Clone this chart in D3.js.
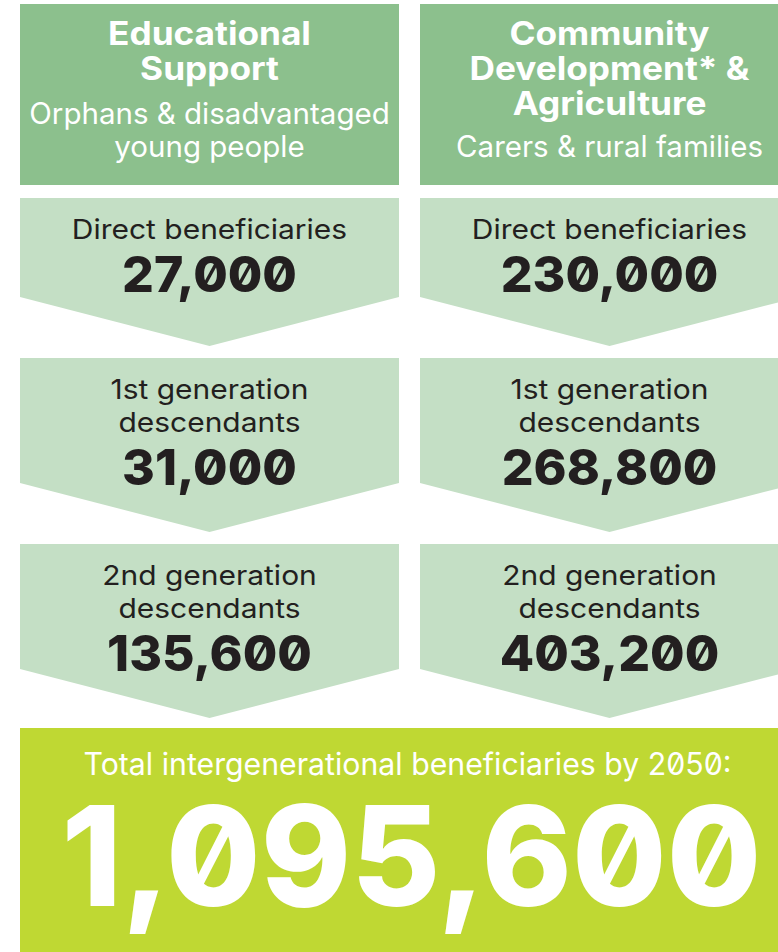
<!DOCTYPE html>
<html>
<head>
<meta charset="utf-8">
<script src="https://cdn.jsdelivr.net/npm/d3@7"></script>
<style>
  html, body { margin: 0; padding: 0; background: #ffffff; overflow: hidden; }
  svg { display: block; }
  text { font-family: Inter, "Noto Sans", sans-serif; }
  .num { font-feature-settings: "zero" 1; }
</style>
</head>
<body>
<svg id="chart" width="778" height="952"></svg>
<script>
// ---- data ----
const columns = ["Educational Support", "Community Development* & Agriculture"];
const columnTitles = [["Educational", "Support"], ["Community", "Development* &", "Agriculture"]];
const columnSubtitles = [["Orphans & disadvantaged", "young people"], ["Carers & rural families"]];
const stageLabels = [["Direct beneficiaries"], ["1st generation", "descendants"], ["2nd generation", "descendants"]];
const educationValues = [27000, 31000, 135600];
const communityValues = [230000, 268800, 403200];
const totalLabel = "Total intergenerational beneficiaries by 2050:";
const totalValue = 1095600;

const seriesValues = [educationValues, communityValues];

// ---- layout ----
const svg = d3.select("#chart");
const fmt = d3.format(",");
const colors = { header: "#8cc08d", stage: "#c4dfc5", total: "#bfd833", dark: "#231f20", white: "#ffffff" };

const x = d3.scaleBand().domain(columns).range([20, 799]).paddingInner(21 / 400);
const bw = x.bandwidth();

function addText(cx, y, sx, txt) {
  return svg.append("text")
    .attr("transform", `translate(${cx},${y}) scale(${sx},1)`)
    .attr("text-anchor", "middle").text(txt);
}

// header boxes
const headerTop = 4, headerBottom = 185;
columns.forEach((c, i) => {
  const x0 = x(c), cx = x0 + bw / 2;
  svg.append("rect").attr("x", x0).attr("y", headerTop).attr("width", bw)
    .attr("height", headerBottom - headerTop).attr("fill", colors.header);
  const titles = columnTitles[i];
  titles.forEach((t, j) => {
    addText(cx, 45 + j * 35, 1.1, t).attr("fill", colors.white)
      .attr("font-size", 32).attr("font-weight", 700);
  });
  const subs = columnSubtitles[i];
  const subStart = titles.length === 2 ? 124 : 157;
  subs.forEach((t, j) => {
    addText(cx, subStart + j * 33, 1.0, t).attr("fill", colors.white)
      .attr("font-size", 29.5).attr("font-weight", 400);
  });
});

// stage chevrons
const rowTops = [];
let yTop = 198;
stageLabels.forEach((lines) => {
  rowTops.push(yTop);
  const rectH = 99 + (lines.length - 1) * 26;
  yTop = yTop + rectH + 49 + 12;
});

stageLabels.forEach((lines, r) => {
  const top = rowTops[r];
  const rectH = 99 + (lines.length - 1) * 26;
  const side = top + rectH, tip = side + 49;
  columns.forEach((c, i) => {
    const x0 = x(c), x1 = x0 + bw, cx = x0 + bw / 2;
    svg.append("path")
      .attr("d", d3.line()([[x0, top], [x1, top], [x1, side], [cx, tip], [x0, side]]) + "Z")
      .attr("fill", colors.stage);
    lines.forEach((t, j) => {
      addText(cx, top + 41 + j * 33, 1.09, t).attr("fill", colors.dark)
        .attr("font-size", 27.5).attr("font-weight", 400);
    });
    const lastBase = top + 41 + (lines.length - 1) * 33;
    addText(cx, lastBase + 53, 1.0, fmt(seriesValues[i][r])).attr("class", "num")
      .attr("fill", colors.dark).attr("font-size", 50).attr("font-weight", 800);
  });
});

// total box
const totalTop = 728;
const tx0 = x.range()[0], tx1 = x.range()[1], tcx = (tx0 + tx1) / 2;
svg.append("rect").attr("x", tx0).attr("y", totalTop).attr("width", tx1 - tx0)
  .attr("height", 952 - totalTop + 10).attr("fill", colors.total);

svg.append("text").attr("class", "num").attr("x", tcx - 2).attr("y", 775)
  .attr("text-anchor", "middle").attr("fill", colors.white)
  .attr("font-size", 31).attr("font-weight", 400)
  .attr("textLength", 648).attr("lengthAdjust", "spacingAndGlyphs")
  .text(totalLabel);

svg.append("text").attr("class", "num").attr("x", tcx + 2).attr("y", 906)
  .attr("text-anchor", "middle").attr("fill", colors.white)
  .attr("font-size", 139).attr("font-weight", 800)
  .attr("textLength", 700).attr("lengthAdjust", "spacingAndGlyphs")
  .text(fmt(totalValue));
</script>
</body>
</html>
